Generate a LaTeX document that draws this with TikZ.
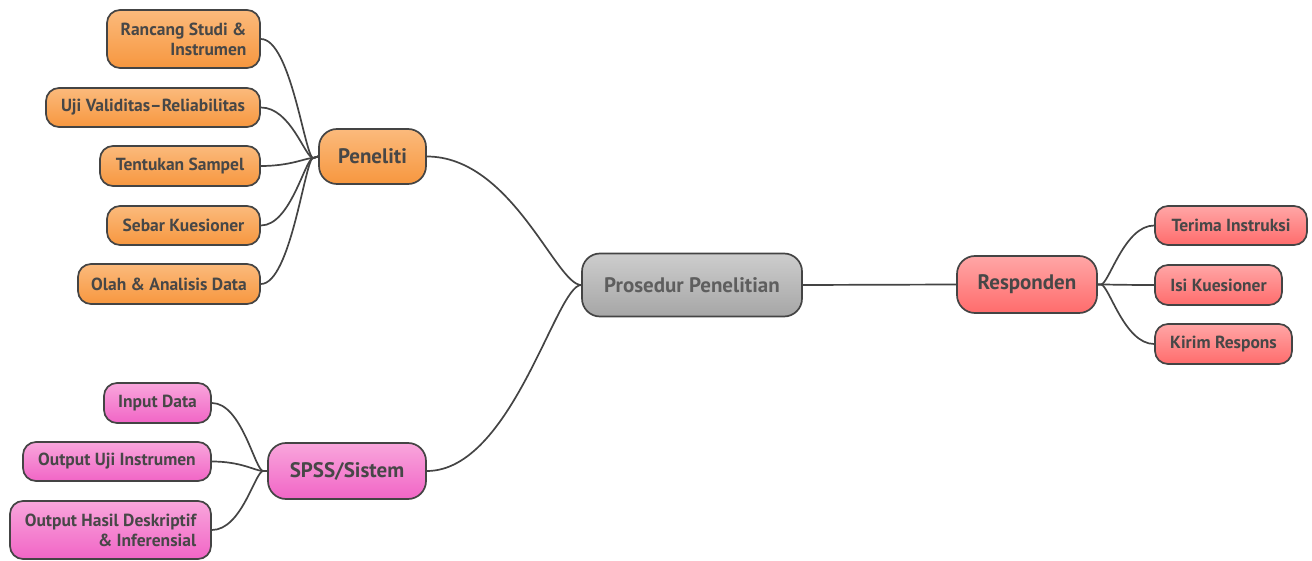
\documentclass[tikz,border=0pt]{standalone}
\usepackage{fontspec}
\setmainfont{PT Sans}
\usetikzlibrary{calc,backgrounds}
\definecolor{linec}{HTML}{444444}
\definecolor{txt}{HTML}{474747}
\definecolor{txtg}{HTML}{5E5E5E}
\definecolor{orT}{HTML}{FBBA7C}
\definecolor{orB}{HTML}{F7973F}
\definecolor{pkT}{HTML}{F9A6DC}
\definecolor{pkB}{HTML}{F165C6}
\definecolor{rdT}{HTML}{FFA6A6}
\definecolor{rdB}{HTML}{FF6C6C}
\definecolor{gyT}{HTML}{CDCDCD}
\definecolor{gyB}{HTML}{A6A6A6}
\begin{document}
\begin{tikzpicture}[x=1pt,y=1pt,
  box/.style={draw=linec, line width=1.7pt, rounded corners=13pt, text=txt, inner sep=0pt, font=\bfseries\fontsize{17.5}{20}\selectfont},
  big/.style={box, rounded corners=18pt, font=\bfseries\fontsize{21}{23}\selectfont},
  orange/.style={top color=orT, bottom color=orB},
  pink/.style={top color=pkT, bottom color=pkB},
  red/.style={top color=rdT, bottom color=rdB},
  grey/.style={top color=gyT, bottom color=gyB},
  conn/.style={draw=linec, line width=1.7pt}
]
\useasboundingbox (0,0) rectangle (1312,-561);
% central
\node[big, grey, text=txtg, minimum width=220, minimum height=63] (pros) at (692,-285) {Prosedur Penelitian};
% Peneliti
\node[big, orange, minimum width=107, minimum height=55] (pen) at (372.5,-156.5) {Peneliti};
\node[box, orange, minimum width=153, minimum height=58, align=right] (c1) at (183.5,-39) {Rancang Studi \&\\Instrumen};
\node[box, orange, minimum width=214, minimum height=39] (c2) at (153,-107.5) {Uji Validitas–Reliabilitas};
\node[box, orange, minimum width=160, minimum height=40] (c3) at (180,-166) {Tentukan Sampel};
\node[box, orange, minimum width=153, minimum height=39] (c4) at (183.5,-225.5) {Sebar Kuesioner};
\node[box, orange, minimum width=182, minimum height=40] (c5) at (169,-284) {Olah \& Analisis Data};
% SPSS
\node[big, pink, minimum width=158, minimum height=56] (spss) at (347,-471) {SPSS/Sistem};
\node[box, pink, minimum width=107, minimum height=40] (s1) at (157.5,-403) {Input Data};
\node[box, pink, minimum width=188, minimum height=39] (s2) at (117,-461.5) {Output Uji Instrumen};
\node[box, pink, minimum width=201, minimum height=58, align=right] (s3) at (110.5,-530) {Output Hasil Deskriptif\\\& Inferensial};
% Responden
\node[big, red, minimum width=140, minimum height=57] (resp) at (1027,-284.5) {Responden};
\node[box, red, minimum width=152, minimum height=39] (r1) at (1231,-225.5) {Terima Instruksi};
\node[box, red, minimum width=127, minimum height=40] (r2) at (1218.5,-285) {Isi Kuesioner};
\node[box, red, minimum width=137, minimum height=40] (r3) at (1223.5,-344) {Kirim Respons};
% convergence points
\coordinate (penin) at ($(pen.west)+(-5,-1.5)$);
\coordinate (spin) at ($(spss.west)+(-4,0)$);
\coordinate (respout) at ($(resp.east)+(3,0)$);
% connectors
\begin{scope}[on background layer]
\foreach \c in {c1,c2,c3,c4,c5}
  \draw[conn] (\c.east) to[out=0,in=180,out distance=30,in distance=8] (penin) -- (pen.west);
\foreach \s in {s1,s2,s3}
  \draw[conn] (\s.east) to[out=0,in=180,out distance=30,in distance=8] (spin) -- (spss.west);
\foreach \r in {r1,r2,r3}
  \draw[conn] (resp.east) -- (respout) to[out=0,in=180,out distance=8,in distance=30] (\r.west);
\draw[conn] (pen.east) to[out=0,in=180,out distance=85,in distance=25] (pros.west);
\draw[conn] (spss.east) to[out=0,in=180,out distance=85,in distance=25] (pros.west);
\draw[conn] (pros.east) -- (resp.west);
\end{scope}
\end{tikzpicture}
\end{document}
